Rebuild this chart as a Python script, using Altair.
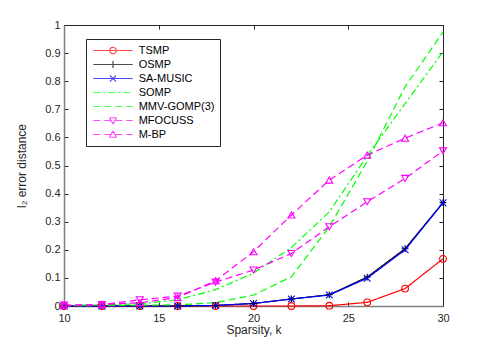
import altair as alt
import pandas as pd

k = [10, 12, 14, 16, 18, 20, 22, 24, 26, 28, 30]
series = ["TSMP", "OSMP", "SA-MUSIC", "SOMP", "MMV-GOMP(3)", "MFOCUSS", "M-BP"]
tsmp = [0, 0, 0, 0, 0, 0, 0, 0.001, 0.013, 0.062, 0.168]
osmp = [0, 0, 0, 0, 0.002, 0.009, 0.025, 0.040, 0.103, 0.204, 0.368]
sa_music = [0, 0, 0, 0, 0.002, 0.009, 0.025, 0.039, 0.099, 0.200, 0.367]
somp = [0.002, 0.004, 0.008, 0.022, 0.058, 0.117, 0.208, 0.335, 0.535, 0.720, 0.905]
mmv_gomp = [0.001, 0.002, 0.003, 0.004, 0.012, 0.039, 0.104, 0.282, 0.515, 0.780, 0.975]
mfocuss = [0.003, 0.005, 0.022, 0.035, 0.085, 0.128, 0.187, 0.282, 0.371, 0.454, 0.552]
m_bp = [0.002, 0.005, 0.012, 0.030, 0.090, 0.193, 0.324, 0.448, 0.537, 0.597, 0.652]
values = [tsmp, osmp, sa_music, somp, mmv_gomp, mfocuss, m_bp]

colors = ["#ff0000", "#000000", "#0000ff", "#00ff00", "#00ff00", "#ff00ff", "#ff00ff"]
dashes = [[1, 0], [1, 0], [1, 0], [7, 3, 2, 3], [7, 4], [7, 4], [7, 4]]
marker_series = ["TSMP", "OSMP", "SA-MUSIC", "MFOCUSS", "M-BP"]
marker_shapes = ["circle", "M-1,0L1,0M0,-1L0,1", "M-1,-1L1,1M-1,1L1,-1",
                 "circle", "circle", "triangle-down", "triangle-up"]
marker_sizes = [45, 49, 36, 1, 1, 70, 70]

# legend glyphs (symbol size 1600 -> 1 unit = 20px): a ~40px line with the marker in its middle
LINE = "M-0.985,0L0.985,0"
legend_shapes = [
    LINE + "M0.1625,0A0.1625,0.1625,0,1,1,-0.1625,0A0.1625,0.1625,0,1,1,0.1625,0",
    LINE + "M0,-0.175L0,0.175",
    LINE + "M-0.15,-0.15L0.15,0.15M-0.15,0.15L0.15,-0.15",
    LINE,
    LINE,
    LINE + "M-0.175,-0.1375L0.175,-0.1375M0.175,-0.1375L0,0.175M0,0.175L-0.175,-0.1375",
    LINE + "M-0.175,0.1375L0.175,0.1375M0.175,0.1375L0,-0.175M0,-0.175L-0.175,0.1375",
]

x_ticks = [10, 15, 20, 25, 30]
y_ticks = [0, 0.1, 0.2, 0.3, 0.4, 0.5, 0.6, 0.7, 0.8, 0.9, 1]

rows = []
for name, vals in zip(series, values):
    for kk, v in zip(k, vals):
        rows.append({"k": kk, "err": v, "series": name})
df = pd.DataFrame(rows)

W, H = 379, 281
TICK = 4
FONT = "Liberation Sans"
TXT = "#262626"

xs = alt.Scale(domain=[10, 30], nice=False)
ys = alt.Scale(domain=[0, 1], nice=False)
color_scale = alt.Scale(domain=series, range=colors)
dash_scale = alt.Scale(domain=series, range=dashes)

# inward ticks on all four sides are drawn as dashed grid lines
x_main = alt.Axis(orient="bottom", values=x_ticks, ticks=False, domain=True,
                  domainColor="#808080", domainWidth=1.5, labelFlush=False,
                  grid=True, gridColor=TXT, gridWidth=1, gridOpacity=1,
                  gridDash=[TICK, H - 2 * TICK, TICK],
                  labelFont=FONT, labelFontSize=11, labelColor=TXT, labelPadding=6,
                  title="Sparsity, k", titleFont=FONT, titleFontSize=12,
                  titleFontWeight="normal", titleColor=TXT, titlePadding=1)
y_main = alt.Axis(orient="left", values=y_ticks, format="~g", ticks=False, domain=True,
                  domainColor="#808080", domainWidth=1.5, labelFlush=False,
                  grid=True, gridColor=TXT, gridWidth=1, gridOpacity=1,
                  gridDash=[TICK, W - 2 * TICK, TICK],
                  labelFont=FONT, labelFontSize=11, labelColor=TXT, labelPadding=4,
                  title="l\u2082 error distance", titleFont=FONT, titleFontSize=12,
                  titleFontWeight="normal", titleColor=TXT, titlePadding=16)

X = alt.X("k:Q", scale=xs, axis=x_main)
Y = alt.Y("err:Q", scale=ys, axis=y_main)

lines = alt.Chart(df).mark_line(strokeWidth=1.2).encode(
    x=X, y=Y,
    color=alt.Color("series:N", scale=color_scale, legend=None),
    strokeDash=alt.StrokeDash("series:N", scale=dash_scale, legend=None),
    detail="series:N",
)

points = alt.Chart(df).transform_filter(
    alt.FieldOneOfPredicate(field="series", oneOf=marker_series)
).mark_point(filled=False, strokeWidth=1.1, opacity=1).encode(
    x=X, y=Y,
    color=alt.Color("series:N", scale=color_scale, legend=None),
    shape=alt.Shape("series:N", scale=alt.Scale(domain=series, range=marker_shapes), legend=None),
    size=alt.Size("series:N", scale=alt.Scale(domain=series, range=marker_sizes), legend=None),
)

leg_common = dict(orient="none", legendX=22, legendY=14, title=None,
                  symbolSize=1600, symbolStrokeWidth=1.2, symbolOffset=1,
                  clipHeight=13, labelOffset=4.7, labelFont=FONT, labelFontSize=11,
                  labelColor="#000000", padding=5, rowPadding=1,
                  strokeColor=TXT, fillColor="#ffffff", cornerRadius=0)

legend_layer = alt.Chart(df).transform_filter("datum.k < 0").mark_point(
    filled=False, strokeWidth=1.2
).encode(
    x=X, y=Y,
    color=alt.Color("series:N", scale=color_scale, legend=alt.Legend(**leg_common)),
    shape=alt.Shape("series:N", scale=alt.Scale(domain=series, range=legend_shapes),
                    legend=alt.Legend(**leg_common)),
    strokeDash=alt.StrokeDash("series:N", scale=dash_scale, legend=alt.Legend(**leg_common)),
)

chart = alt.layer(lines, points, legend_layer).resolve_scale(
    color="independent", shape="independent", strokeDash="independent", size="independent"
).properties(
    width=W, height=H,
    padding={"left": 56, "top": 17, "right": 30, "bottom": 40},
    autosize=alt.AutoSizeParams(type="none"),
    background="#ffffff",
).configure_view(stroke=TXT, strokeWidth=1)

chart.save("out.html", embed_options={"renderer": "svg", "actions": False})
